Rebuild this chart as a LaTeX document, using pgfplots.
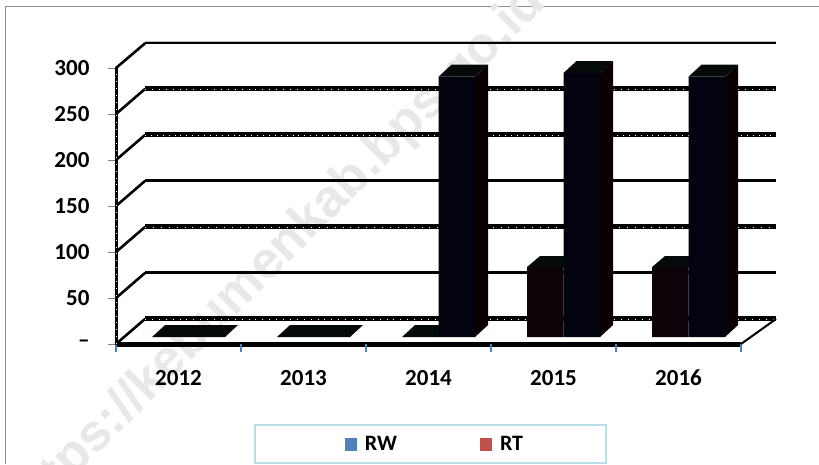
\documentclass[border=0pt]{standalone}
\usepackage{pgfplots}
\pgfplotsset{compat=1.18}
\usepackage{fontspec}
\setmainfont{Carlito}
\newfontfamily\wmfont{Liberation Sans}
\definecolor{wm}{HTML}{E8E8E8}
\definecolor{rwfront}{HTML}{0D0308}
\definecolor{rtfront}{HTML}{03030F}
\definecolor{sidec}{HTML}{0A0000}
\definecolor{topc}{HTML}{040A0A}
\definecolor{legb}{HTML}{B7DDE8}
\definecolor{frm}{HTML}{8C8C8C}
\definecolor{legblue}{HTML}{4F81BD}
\definecolor{legred}{HTML}{C0504D}
\newcommand\topface[7][topc]{\addplot[fill=#1,draw=none,forget plot] coordinates {(#2,#6) (#3,#6) (#4,#7) (#5,#7)} --cycle;}
\newcommand\sideface[4]{\addplot[fill=sidec,draw=none,forget plot] coordinates {(#1,0) (#2,13) (#2,#4) (#1,#3)} --cycle;}
\newcommand\grid[3]{%
  \addplot[black,line width=2.6pt,line cap=round,forget plot] coordinates {(-0.5,#2) (-0.268,#3)};%
  \addplot[black,line width=#1pt,forget plot] coordinates {(-0.268,#3) (4.78,#3)};}
\newcommand\noise[2]{\addplot[white,line width=0.7pt,dash pattern=on 0.9pt off #2pt,forget plot] coordinates {(-0.268,#1) (4.78,#1)};}
\begin{document}
\begin{tikzpicture}[x=1pt,y=1pt]
\useasboundingbox (0,0) rectangle (819,464);
\fill[white] (0,0) rectangle (819,464);
\draw[frm,line width=1.3pt] (5.3,0) -- (5.3,457.3) -- (819,457.3);
\begin{scope}
\clip (0,0) rectangle (819,464);
\node[wm,rotate=45,font=\wmfont\bfseries\fontsize{52}{52}\selectfont,inner sep=0] at (277,208) {https://kebumenkab.bps.go.id};
\end{scope}
\begin{axis}[
  at={(116pt,120pt)},anchor=south west,
  scale only axis,x=125pt,y=0.92pt,
  xmin=-0.5,xmax=4.5,ymin=-7.6,ymax=292.4,
  clip=false,
  axis lines=left,
  x axis line style={-,black,line width=5pt},
  y axis line style={-,black,line width=3pt},
  xtick={0,1,2,3,4},
  xticklabels={2012,2013,2014,2015,2016},
  x tick style={draw=none},
  ytick={-7.6,42.4,92.4,142.4,192.4,242.4,292.4},
  yticklabels={--,50,100,150,200,250,300},
  y tick style={draw=gray,line width=1pt},
  tick align=outside,
  major tick length=8pt,
  ticklabel style={font=\bfseries\fontsize{23}{23}\selectfont,text=black},
  xticklabel style={yshift=-15pt,text height=15pt,text depth=0pt},
  yticklabel style={xshift=-15pt},
  legend columns=2,
  legend style={at={(axis cs:2.016,-116.3)},anchor=center,draw=legb,line width=1.5pt,fill=white,
    font=\bfseries\fontsize{22}{22}\selectfont,
    inner xsep=81pt,inner ysep=9pt,
    /tikz/every even column/.append style={column sep=72pt}},
  legend image code/.code={\path[draw=none,fill=none] (-9pt,0) -- (18pt,0);\fill[#1,draw=none] (0pt,-6.5pt) rectangle (12pt,6.5pt);},
]
\addlegendimage{legblue}
\addlegendentry{RW}
\addlegendimage{legred}
\addlegendentry{RT}
% x tick marks
\addplot[legblue,line width=1.2pt,forget plot] coordinates {(-0.5,-7.6) (-0.5,-16.3)};
\addplot[legblue,line width=1.2pt,forget plot] coordinates {(0.5,-7.6) (0.5,-16.3)};
\addplot[legblue,line width=1.2pt,forget plot] coordinates {(1.5,-7.6) (1.5,-16.3)};
\addplot[legblue,line width=1.2pt,forget plot] coordinates {(2.5,-7.6) (2.5,-16.3)};
\addplot[legblue,line width=1.2pt,forget plot] coordinates {(3.5,-7.6) (3.5,-16.3)};
\addplot[legblue,line width=1.2pt,forget plot] coordinates {(4.5,-7.6) (4.5,-16.3)};
% gridlines (wall and back)
\grid{5}{-7.6}{19.6}
\grid{3}{42.4}{69.6}
\grid{5}{92.4}{119.6}
\grid{3}{142.4}{169.6}
\grid{5}{192.4}{219.6}
\grid{5}{242.4}{269.6}
\grid{1.8}{292.4}{319.2}
\addplot[gray!55,line width=1.6pt,forget plot] coordinates {(-0.268,321.1) (4.78,321.1)};
\noise{19.6}{6}
\noise{119.6}{7}
\noise{219.6}{5}
\noise{269.6}{6}
\addplot[white,line width=0.7pt,dash pattern=on 0.9pt off 6pt,forget plot] coordinates {(-0.5,-7.6) (-0.5,292.4)};
% floor right edge
\addplot[black,line width=2pt,forget plot] coordinates {(4.5,-7.6) (4.78,19.6)};
% cuboids
\topface{-0.212}{0.372}{0.476}{-0.108}{0}{13}
\topface{0.788}{1.372}{1.476}{0.892}{0}{13}
\topface{1.788}{2.08}{2.184}{1.892}{0}{13}
\topface{2.788}{3.08}{3.184}{2.892}{76}{88}
\topface{3.788}{4.08}{4.184}{3.892}{76}{88}
\addplot[ybar,bar width=36.5pt,bar shift=-8.25pt,fill=rwfront,draw=none,forget plot] coordinates {(3,76) (4,76)};
\sideface{2.372}{2.476}{283}{296}
\topface{2.08}{2.372}{2.476}{2.184}{283}{296}
\sideface{3.372}{3.476}{287}{300}
\topface{3.08}{3.372}{3.476}{3.184}{287}{300}
\sideface{4.372}{4.476}{283}{296}
\topface{4.08}{4.372}{4.476}{4.184}{283}{296}
\addplot[ybar,bar width=36.5pt,bar shift=28.25pt,fill=rtfront,draw=none,forget plot] coordinates {(2,283) (3,287) (4,283)};
\end{axis}
\end{tikzpicture}
\end{document}
